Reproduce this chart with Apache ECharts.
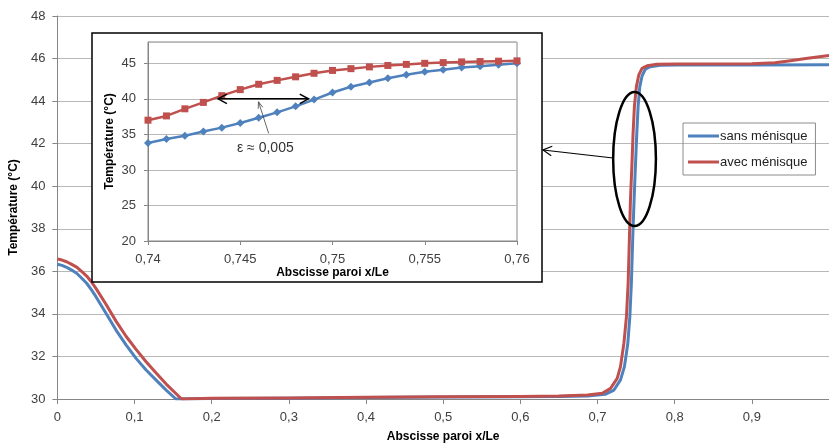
<!DOCTYPE html>
<html>
<head>
<meta charset="utf-8">
<script src="https://cdn.jsdelivr.net/npm/echarts@6/dist/echarts.min.js"></script>
<style>
html,body{margin:0;padding:0;background:#fff;}
#c{width:829px;height:448px;}
</style>
</head>
<body>
<div id="c"></div>
<script>
// ---- Data ----
const seriesNames = ['sans ménisque', 'avec ménisque'];

const mainBlueX = [0, 0.006, 0.012, 0.018, 0.025, 0.031, 0.038, 0.044, 0.05, 0.063, 0.076, 0.089, 0.102, 0.115, 0.128, 0.141, 0.1536, 0.2, 0.3, 0.4, 0.5, 0.6, 0.65, 0.687, 0.71, 0.7213, 0.7298, 0.7349, 0.7393, 0.7419, 0.7439, 0.7457, 0.7474, 0.7491, 0.7509, 0.7526, 0.7548, 0.7577, 0.762, 0.7684, 0.7813, 0.8028, 0.9, 1.0];
const mainBlueY = [36.33, 36.28, 36.19, 36.07, 35.91, 35.7, 35.44, 35.14, 34.81, 34.03, 33.24, 32.54, 31.91, 31.36, 30.89, 30.42, 30.0, 30.02, 30.04, 30.07, 30.09, 30.11, 30.12, 30.14, 30.22, 30.42, 30.9, 31.52, 32.62, 33.87, 35.44, 37.63, 39.35, 40.92, 42.49, 43.74, 44.68, 45.18, 45.5, 45.62, 45.68, 45.70, 45.70, 45.71];

const mainRedX = [0, 0.006, 0.012, 0.018, 0.025, 0.031, 0.038, 0.044, 0.05, 0.063, 0.076, 0.089, 0.102, 0.115, 0.128, 0.141, 0.161, 0.2, 0.3, 0.4, 0.5, 0.6, 0.65, 0.687, 0.7062, 0.7169, 0.7255, 0.7298, 0.7342, 0.7375, 0.7397, 0.7414, 0.7427, 0.7445, 0.7461, 0.7478, 0.7504, 0.7535, 0.7577, 0.7642, 0.7771, 0.8028, 0.9, 0.93, 0.95, 0.97, 1.0];
const mainRedY = [36.58, 36.53, 36.45, 36.34, 36.2, 36.01, 35.78, 35.51, 35.2, 34.45, 33.66, 32.95, 32.33, 31.75, 31.22, 30.7, 30.0, 30.03, 30.05, 30.08, 30.1, 30.12, 30.14, 30.19, 30.27, 30.5, 30.97, 31.52, 32.62, 33.87, 35.44, 37.63, 39.35, 40.92, 42.49, 43.74, 44.68, 45.23, 45.54, 45.66, 45.73, 45.74, 45.76, 45.8, 45.9, 46.0, 46.15];

const insetX = [0.740, 0.741, 0.742, 0.743, 0.744, 0.745, 0.746, 0.747, 0.748, 0.749, 0.750, 0.751, 0.752, 0.753, 0.754, 0.755, 0.756, 0.757, 0.758, 0.759, 0.760];
const insetBlue = [33.8, 34.35, 34.8, 35.4, 35.95, 36.6, 37.35, 38.1, 38.95, 39.9, 40.9, 41.7, 42.3, 42.9, 43.4, 43.8, 44.1, 44.4, 44.6, 44.8, 45.0];
const insetRed = [37.0, 37.6, 38.6, 39.5, 40.45, 41.3, 42.05, 42.6, 43.1, 43.6, 44.0, 44.25, 44.5, 44.7, 44.85, 45.0, 45.1, 45.2, 45.25, 45.3, 45.35];

const epsLabel = 'ε ≈ 0,005';
const xTitle = 'Abscisse paroi x/Le';
const yTitle = 'Température (°C)';

// ---- Chart ----
const BLUE = '#4F81BD', RED = '#C0504D';
const AXIS = '#868686', GRID = '#b8b8b8', LBL = '#404040';
const FONT = 'Liberation Sans';
const zip = (xs, ys) => xs.map((x, i) => [x, ys[i]]);
const fmtComma = d => v => String(+v.toFixed(d)).replace('.', ',');

const chart = echarts.init(document.getElementById('c'));
const option = {
  animation: false,
  backgroundColor: '#fff',
  textStyle: { fontFamily: FONT },
  legend: {
    data: seriesNames.map(n => ({ name: n, icon: 'rect' })),
    orient: 'vertical', left: 683, top: 123,
    borderColor: '#8c8c8c', borderWidth: 1,
    padding: [6, 8, 6, 5], itemGap: 12, itemWidth: 31, itemHeight: 3,
    textStyle: { fontSize: 13, color: '#222', fontFamily: FONT, lineHeight: 14, padding: [0, 0, 0, -4] },
    selectedMode: false
  },
  grid: [
    { left: 57, top: 16, right: -4, bottom: 49, show: false },
    { left: 148, top: 42, right: 312, bottom: 207, show: true, borderColor: AXIS, borderWidth: 1, backgroundColor: 'transparent', z: 11 }
  ],
  xAxis: [
    {
      type: 'value', gridIndex: 0, min: 0, max: 1, interval: 0.1,
      axisLine: { show: true, lineStyle: { color: AXIS } },
      axisTick: { show: true, length: 5, lineStyle: { color: AXIS } },
      splitLine: { show: false },
      axisLabel: { formatter: fmtComma(1), fontSize: 13, color: LBL, margin: 12, showMaxLabel: false },
      name: xTitle, nameLocation: 'middle', nameGap: 32,
      nameTextStyle: { fontSize: 12, fontWeight: 'bold', color: '#000', fontFamily: FONT }
    },
    {
      type: 'value', gridIndex: 1, min: 0.74, max: 0.76, interval: 0.005, z: 12,
      axisLine: { show: true, lineStyle: { color: AXIS } },
      axisTick: { show: true, length: 4, lineStyle: { color: AXIS } },
      splitLine: { show: false },
      axisLabel: { formatter: fmtComma(3), fontSize: 13, color: LBL, margin: 12 },
      name: xTitle, nameLocation: 'middle', nameGap: 26,
      nameTextStyle: { fontSize: 12, fontWeight: 'bold', color: '#000', fontFamily: FONT }
    }
  ],
  yAxis: [
    {
      type: 'value', gridIndex: 0, min: 30, max: 48, interval: 2,
      axisLine: { show: true, lineStyle: { color: AXIS } },
      axisTick: { show: true, length: 5, lineStyle: { color: AXIS } },
      splitLine: { show: true, lineStyle: { color: GRID, width: 1 } },
      axisLabel: { fontSize: 13, color: LBL, margin: 12 },
      name: yTitle, nameLocation: 'middle', nameGap: 32, nameRotate: 90,
      nameTextStyle: { fontSize: 12, fontWeight: 'bold', color: '#000', fontFamily: FONT }
    },
    {
      type: 'value', gridIndex: 1, min: 20, max: 48, interval: 5, z: 12,
      axisLine: { show: true, lineStyle: { color: AXIS } },
      axisTick: { show: true, length: 4, lineStyle: { color: AXIS } },
      splitLine: { show: true, lineStyle: { color: GRID, width: 1 } },
      axisLabel: { fontSize: 13, color: LBL, margin: 12, showMaxLabel: false },
      name: yTitle, nameLocation: 'middle', nameGap: 32, nameRotate: 90,
      nameTextStyle: { fontSize: 12, fontWeight: 'bold', color: '#000', fontFamily: FONT }
    }
  ],
  series: [
    { name: seriesNames[0], type: 'line', xAxisIndex: 0, yAxisIndex: 0, data: zip(mainBlueX, mainBlueY),
      showSymbol: false, smooth: false, color: BLUE, lineStyle: { width: 3, color: BLUE, join: 'round' }, z: 2 },
    { name: seriesNames[1], type: 'line', xAxisIndex: 0, yAxisIndex: 0, data: zip(mainRedX, mainRedY),
      showSymbol: false, smooth: false, color: RED, lineStyle: { width: 3, color: RED, join: 'round' }, z: 3 },
    { name: seriesNames[0], type: 'line', xAxisIndex: 1, yAxisIndex: 1, data: zip(insetX, insetBlue),
      symbol: 'diamond', symbolSize: 8, color: BLUE, itemStyle: { color: BLUE }, lineStyle: { width: 2.5, color: BLUE }, z: 13 },
    { name: seriesNames[1], type: 'line', xAxisIndex: 1, yAxisIndex: 1, data: zip(insetX, insetRed),
      symbol: 'rect', symbolSize: 7, color: RED, itemStyle: { color: RED }, lineStyle: { width: 2.5, color: RED }, z: 14 }
  ]
};
chart.setOption(option);

// ---- Annotations (positions from data coords) ----
const P0 = (x, y) => chart.convertToPixel({ gridIndex: 0 }, [x, y]);
const P1 = (x, y) => chart.convertToPixel({ gridIndex: 1 }, [x, y]);
function head(tip, from, len, ang) {
  const dx = tip[0] - from[0], dy = tip[1] - from[1];
  const L = Math.hypot(dx, dy), ux = dx / L, uy = dy / L;
  const r = (a) => [tip[0] - len * (ux * Math.cos(a) - uy * Math.sin(a)), tip[1] - len * (ux * Math.sin(a) + uy * Math.cos(a))];
  return [r(ang), tip, r(-ang)];
}
const g = [];
// inset box
g.push({ type: 'rect', z: 10, shape: { x: 92, y: 33, width: 450, height: 249 }, style: { fill: '#fff', stroke: '#000', lineWidth: 1.5 } });
// ellipse on main transition
const ec = P0(0.748, 41.28), er = P0(0.748 + 0.0277, 41.28 - 3.15);
g.push({ type: 'ellipse', z: 30, shape: { cx: ec[0], cy: ec[1], rx: er[0] - ec[0], ry: er[1] - ec[1] }, style: { fill: 'none', stroke: '#000', lineWidth: 2.5 } });
// big arrow from ellipse to the inset box
const aS = [ec[0] - (er[0] - ec[0]), ec[1] - 1], aE = [543, 150];
g.push({ type: 'line', z: 30, shape: { x1: aS[0], y1: aS[1], x2: aE[0], y2: aE[1] }, style: { stroke: '#000', lineWidth: 1.2 } });
g.push({ type: 'polyline', z: 30, shape: { points: head(aE, aS, 10, 0.5) }, style: { stroke: '#000', lineWidth: 1.2, fill: 'none' } });
// inset double arrow
const dL = P1(0.7438, 40), dR = P1(0.7487, 40);
g.push({ type: 'line', z: 30, shape: { x1: dL[0], y1: dL[1], x2: dR[0], y2: dR[1] }, style: { stroke: '#000', lineWidth: 1.5 } });
g.push({ type: 'polyline', z: 30, shape: { points: head(dL, dR, 10, 0.5) }, style: { stroke: '#000', lineWidth: 1.5, fill: 'none' } });
g.push({ type: 'polyline', z: 30, shape: { points: head(dR, dL, 10, 0.5) }, style: { stroke: '#000', lineWidth: 1.5, fill: 'none' } });
// leader line
const lB = P1(0.74654, 35.14), lT = P1(0.74599, 39.59);
g.push({ type: 'line', z: 30, shape: { x1: lB[0], y1: lB[1], x2: lT[0], y2: lT[1] }, style: { stroke: '#404040', lineWidth: 0.8 } });
g.push({ type: 'polyline', z: 30, shape: { points: head(lT, lB, 7, 0.35) }, style: { stroke: '#404040', lineWidth: 0.8, fill: 'none' } });
// epsilon label
const tp = P1(0.74636, 33.07);
g.push({ type: 'text', z: 30, x: tp[0], y: tp[1], style: { text: epsLabel, fontSize: 14, fontFamily: FONT, fill: '#333', align: 'center', verticalAlign: 'middle' } });
chart.setOption({ graphic: g });
</script>
</body>
</html>
